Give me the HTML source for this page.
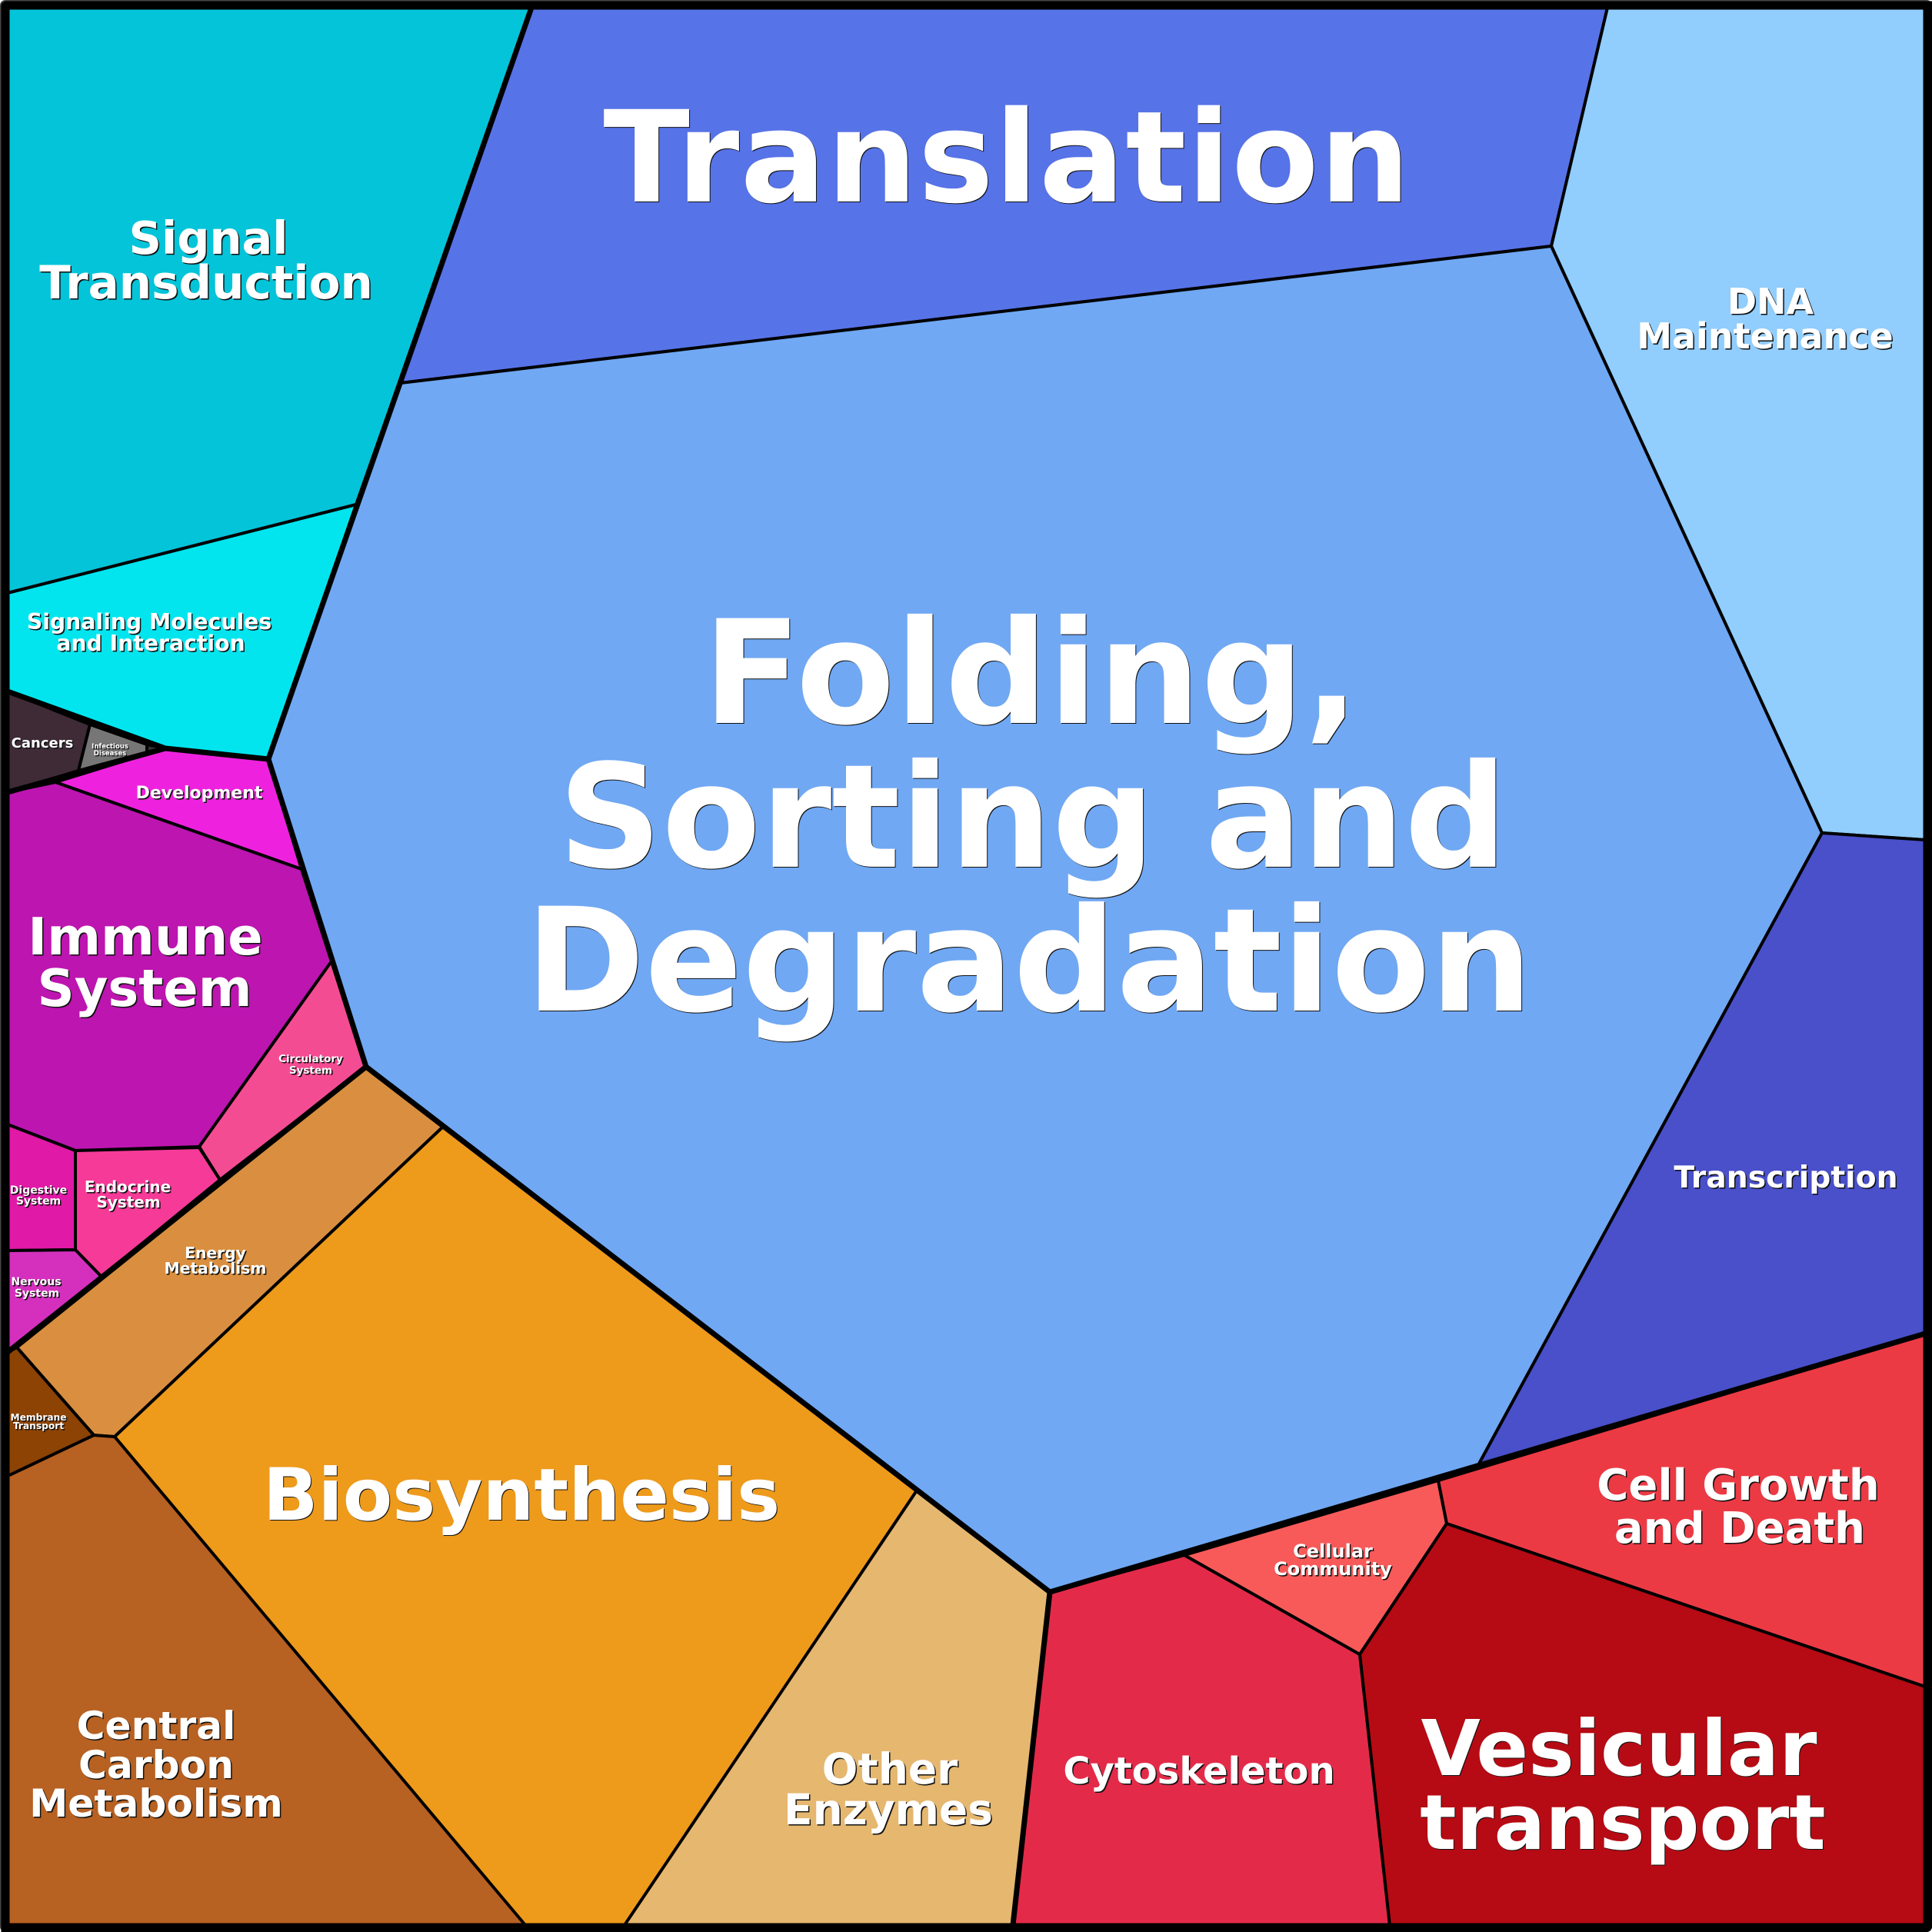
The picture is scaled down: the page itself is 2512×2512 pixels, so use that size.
<!DOCTYPE html>
<html><head><meta charset="utf-8"><style>
html,body{margin:0;padding:0;background:#fff}
svg{display:block}
text{font-family:"DejaVu Sans",sans-serif;font-weight:bold;text-anchor:middle;fill:#fff}
.s text{fill:#111}
</style></head><body>
<svg xmlns="http://www.w3.org/2000/svg" width="2512" height="2512" viewBox="0 0 2512 2512">
<rect width="2512" height="2512" fill="#fff"/>
<g stroke="#000" stroke-width="4" stroke-linejoin="round">
<polygon fill="#04c4d9" points="10,10 691,10 463,656 10,771"/>
<polygon fill="#02e5ee" points="10,771 463,656 349,987 215,973 10,899"/>
<polygon fill="#5773e8" points="691,10 2090,10 2017,320 521,498"/>
<polygon fill="#91cdfd" points="2090,10 2503,10 2503,1092 2369,1083 2017,320"/>
<polygon fill="#70a8f3" points="521,498 2017,320 2369,1083 1922,1905 1365,2070 476,1387 349,987"/>
<polygon fill="#4950c9" points="2369,1083 2503,1092 2503,1734 1922,1905"/>
<polygon fill="#3e2b36" points="10,899 117,942 102,1002 10,1030"/>
<polygon fill="#767676" points="117,942 191,968 191,978 102,1002"/>
<polygon fill="#333333" points="191,968 215,973 191,978"/>
<polygon fill="#ee22de" points="72,1017 215,973 349,987 392,1130"/>
<polygon fill="#bd15b0" points="10,1030 72,1017 392,1130 431,1250 259,1491 98,1496 10,1462"/>
<polygon fill="#f44c93" points="431,1250 476,1387 286,1534 259,1491"/>
<polygon fill="#f63a98" points="98,1496 259,1492 286,1534 132,1660 98,1625"/>
<polygon fill="#e019a6" points="10,1462 98,1496 98,1625 10,1626"/>
<polygon fill="#d430bd" points="10,1626 98,1625 132,1660 10,1758"/>
<polygon fill="#d98f3f" points="476,1387 576,1465 149,1868 122,1866 22,1752"/>
<polygon fill="#ee9a1b" points="576,1465 1192,1938 814,2503 681,2503 149,1868"/>
<polygon fill="#b76122" points="10,1919 122,1866 149,1868 683,2503 10,2503"/>
<polygon fill="#8c4304" points="10,1758 22,1752 122,1866 10,1919"/>
<polygon fill="#e5b76f" points="1192,1938 1365,2070 1317,2503 812,2503"/>
<polygon fill="#e32b49" points="1365,2070 1540,2022 1768,2151 1807,2503 1317,2503"/>
<polygon fill="#f85a5a" points="1540,2022 1870,1925 1881,1981 1768,2151"/>
<polygon fill="#ec3a45" points="1870,1925 2503,1734 2503,2193 1881,1981"/>
<polygon fill="#b60b14" points="1881,1981 2503,2193 2503,2503 1807,2503 1768,2151"/>
</g>
<g fill="none" stroke="#000" stroke-width="7" stroke-linejoin="round">
<polyline points="691,10 349,987 476,1387 1365,2070 2503,1734"/>
<polyline points="10,899 215,973 349,987"/>
<polyline points="10,1030 215,973"/>
<polyline points="476,1387 10,1758"/>
<polyline points="1365,2070 1317,2503"/>
</g>
<path fill="#444" fill-rule="evenodd" d="M7,0H2505A7,7 0 0 1 2512,7V2505A7,7 0 0 1 2505,2512H7A7,7 0 0 1 0,2505V7A7,7 0 0 1 7,0ZM12.5,12.5V2500.5H2500.5V12.5Z"/>
<path fill="#000" fill-rule="evenodd" d="M8,1.5H2512V2505A7,7 0 0 1 2505,2512H1.5V8A6.5,6.5 0 0 1 8,1.5ZM12.5,12.5V2500.5H2500.5V12.5Z"/>
<g class="s" transform="translate(1,1)">
<text x="1309.5" y="262" font-size="165" letter-spacing="1.2">Translation</text>
<text x="1341" y="940" font-size="187" letter-spacing="0.6">Folding,</text>
<text x="1343" y="1127" font-size="187">Sorting and</text>
<text x="1338" y="1314" font-size="187">Degradation</text>
<text x="678" y="1976" font-size="94">Biosynthesis</text>
<text x="2105" y="2308" font-size="100">Vesicular</text>
<text x="2110" y="2404" font-size="99">transport</text>
</g>
<g>
<text x="1309.5" y="262" font-size="165" letter-spacing="1.2">Translation</text>
<text x="1341" y="940" font-size="187" letter-spacing="0.6">Folding,</text>
<text x="1343" y="1127" font-size="187">Sorting and</text>
<text x="1338" y="1314" font-size="187">Degradation</text>
<text x="678" y="1976" font-size="94">Biosynthesis</text>
<text x="2105" y="2308" font-size="100">Vesicular</text>
<text x="2110" y="2404" font-size="99">transport</text>
</g>
<g class="s" transform="translate(1.5,1.5)">
<text x="271" y="330" font-size="59">Signal</text>
<text x="268" y="388" font-size="59.5">Transduction</text>
<text x="194" y="818" font-size="28.3">Signaling Molecules</text>
<text x="196" y="846" font-size="28.3">and Interaction</text>
<text x="2302" y="408" font-size="46">DNA</text>
<text x="2295" y="453" font-size="46">Maintenance</text>
<text x="55" y="972" font-size="18">Cancers</text>
<text x="143" y="973" font-size="8.5">Infectious</text>
<text x="143" y="982" font-size="8.5">Diseases</text>
<text x="259" y="1038" font-size="22">Development</text>
<text x="189" y="1241" font-size="67">Immune</text>
<text x="188" y="1308" font-size="67">System</text>
<text x="404" y="1381" font-size="13.5">Circulatory</text>
<text x="404" y="1396" font-size="13.5">System</text>
<text x="166" y="1550" font-size="20">Endocrine</text>
<text x="167" y="1570" font-size="20">System</text>
<text x="50" y="1552" font-size="14">Digestive</text>
<text x="50" y="1566" font-size="14">System</text>
<text x="47" y="1671" font-size="14">Nervous</text>
<text x="48" y="1686" font-size="14">System</text>
<text x="280" y="1636" font-size="20.3">Energy</text>
<text x="280" y="1656" font-size="20.3">Metabolism</text>
<text x="50" y="1847" font-size="12.2">Membrane</text>
<text x="50" y="1858" font-size="12.2">Transport</text>
<text x="203" y="2261" font-size="50.3">Central</text>
<text x="203" y="2312" font-size="50.3">Carbon</text>
<text x="203" y="2362" font-size="50.3">Metabolism</text>
<text x="1157" y="2319" font-size="55">Other</text>
<text x="1155" y="2372" font-size="55">Enzymes</text>
<text x="1559" y="2319" font-size="48">Cytoskeleton</text>
<text x="2260" y="1950" font-size="56">Cell Growth</text>
<text x="2262" y="2006" font-size="56">and Death</text>
<text x="1733" y="2025" font-size="24">Cellular</text>
<text x="1733" y="2048" font-size="24">Community</text>
<text x="2322" y="1544" font-size="39.3">Transcription</text>
</g>
<g>
<text x="271" y="330" font-size="59">Signal</text>
<text x="268" y="388" font-size="59.5">Transduction</text>
<text x="194" y="818" font-size="28.3">Signaling Molecules</text>
<text x="196" y="846" font-size="28.3">and Interaction</text>
<text x="2302" y="408" font-size="46">DNA</text>
<text x="2295" y="453" font-size="46">Maintenance</text>
<text x="55" y="972" font-size="18">Cancers</text>
<text x="143" y="973" font-size="8.5">Infectious</text>
<text x="143" y="982" font-size="8.5">Diseases</text>
<text x="259" y="1038" font-size="22">Development</text>
<text x="189" y="1241" font-size="67">Immune</text>
<text x="188" y="1308" font-size="67">System</text>
<text x="404" y="1381" font-size="13.5">Circulatory</text>
<text x="404" y="1396" font-size="13.5">System</text>
<text x="166" y="1550" font-size="20">Endocrine</text>
<text x="167" y="1570" font-size="20">System</text>
<text x="50" y="1552" font-size="14">Digestive</text>
<text x="50" y="1566" font-size="14">System</text>
<text x="47" y="1671" font-size="14">Nervous</text>
<text x="48" y="1686" font-size="14">System</text>
<text x="280" y="1636" font-size="20.3">Energy</text>
<text x="280" y="1656" font-size="20.3">Metabolism</text>
<text x="50" y="1847" font-size="12.2">Membrane</text>
<text x="50" y="1858" font-size="12.2">Transport</text>
<text x="203" y="2261" font-size="50.3">Central</text>
<text x="203" y="2312" font-size="50.3">Carbon</text>
<text x="203" y="2362" font-size="50.3">Metabolism</text>
<text x="1157" y="2319" font-size="55">Other</text>
<text x="1155" y="2372" font-size="55">Enzymes</text>
<text x="1559" y="2319" font-size="48">Cytoskeleton</text>
<text x="2260" y="1950" font-size="56">Cell Growth</text>
<text x="2262" y="2006" font-size="56">and Death</text>
<text x="1733" y="2025" font-size="24">Cellular</text>
<text x="1733" y="2048" font-size="24">Community</text>
<text x="2322" y="1544" font-size="39.3">Transcription</text>
</g>
</svg>
</body></html>
